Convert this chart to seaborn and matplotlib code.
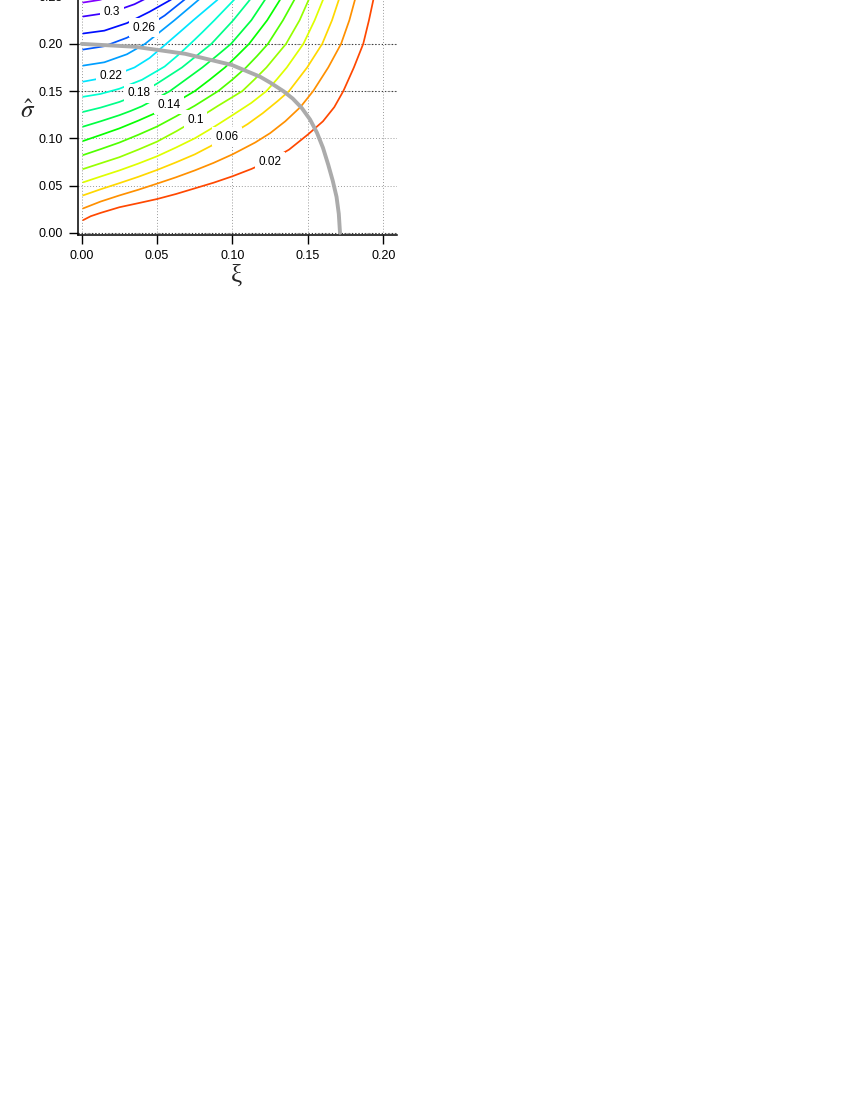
import numpy as np
import matplotlib
matplotlib.use('Agg')
import matplotlib.pyplot as plt
import seaborn as sns
import colorsys

# Contour levels
levels = [0.02, 0.04, 0.06, 0.08, 0.10, 0.12, 0.14, 0.16,
          0.18, 0.20, 0.22, 0.24, 0.26, 0.28, 0.30, 0.32]

# Each contour line as (xi, sigma_hat) pairs
c02 = [(0.001, 0.0134), (0.006, 0.0175), (0.0125, 0.0210), (0.025, 0.0270), (0.0375, 0.0313),
       (0.050, 0.0357), (0.0625, 0.0410), (0.075, 0.0470), (0.0875, 0.0530), (0.100, 0.0598),
       (0.1125, 0.0675), (0.125, 0.0765), (0.1375, 0.0880), (0.150, 0.1040), (0.160, 0.1180),
       (0.1675, 0.1330), (0.1735, 0.1500), (0.1805, 0.1750), (0.1867, 0.2000), (0.1905, 0.2250),
       (0.1934, 0.2466), (0.1950, 0.2600)]
c04 = [(0.001, 0.0258), (0.0125, 0.0330), (0.025, 0.0395), (0.0375, 0.0455), (0.050, 0.0520),
       (0.0625, 0.0587), (0.075, 0.0660), (0.0875, 0.0740), (0.100, 0.0830), (0.115, 0.0955),
       (0.125, 0.1055), (0.135, 0.1180), (0.145, 0.1330), (0.1535, 0.1500), (0.1635, 0.1750),
       (0.1720, 0.2000), (0.1775, 0.2250), (0.1812, 0.2466), (0.1830, 0.2600)]
c06 = [(0.001, 0.0396), (0.0125, 0.0460), (0.025, 0.0525), (0.0375, 0.0592), (0.050, 0.0665),
       (0.0625, 0.0745), (0.075, 0.0830), (0.0856, 0.0918), (0.0962, 0.1015), (0.110, 0.1150),
       (0.120, 0.1265), (0.130, 0.1395), (0.1375, 0.1500), (0.1495, 0.1750), (0.1595, 0.2000),
       (0.1660, 0.2250), (0.1705, 0.2466), (0.1725, 0.2600)]
c08 = [(0.001, 0.0534), (0.0125, 0.0595), (0.025, 0.0660), (0.0375, 0.0732), (0.050, 0.0810),
       (0.0625, 0.0902), (0.075, 0.1000), (0.0875, 0.1118), (0.100, 0.1245), (0.1125, 0.1375),
       (0.1225, 0.1500), (0.1293, 0.1622), (0.1360, 0.1750), (0.1470, 0.2000), (0.1545, 0.2250),
       (0.1600, 0.2466), (0.1625, 0.2600)]
c10 = [(0.001, 0.0675), (0.0125, 0.0735), (0.025, 0.0800), (0.0375, 0.0880), (0.050, 0.0965),
       (0.0628, 0.1075), (0.0756, 0.1194), (0.090, 0.1340), (0.1065, 0.1500), (0.1145, 0.1622),
       (0.1225, 0.1750), (0.1355, 0.2000), (0.1445, 0.2250), (0.1505, 0.2466), (0.1535, 0.2600)]
c12 = [(0.001, 0.0823), (0.0125, 0.0885), (0.025, 0.0955), (0.0375, 0.1037), (0.050, 0.1125),
       (0.0625, 0.1232), (0.075, 0.1345), (0.0905, 0.1500), (0.0998, 0.1620), (0.1090, 0.1750),
       (0.1162, 0.1870), (0.1235, 0.2000), (0.1335, 0.2250), (0.1410, 0.2466), (0.1440, 0.2600)]
c14 = [(0.001, 0.0972), (0.0125, 0.1035), (0.025, 0.1105), (0.0375, 0.1187), (0.050, 0.1275),
       (0.0579, 0.1345), (0.0665, 0.1420), (0.075, 0.1500), (0.085, 0.1622), (0.095, 0.1750),
       (0.103, 0.1873), (0.111, 0.2000), (0.123, 0.2250), (0.1315, 0.2466), (0.1355, 0.2600)]
c16 = [(0.001, 0.1124), (0.0125, 0.1180), (0.025, 0.1245), (0.0325, 0.1290), (0.040, 0.1340),
       (0.049, 0.1417), (0.0585, 0.1500), (0.069, 0.1622), (0.080, 0.1750), (0.0895, 0.1873),
       (0.099, 0.2000), (0.1125, 0.2250), (0.1215, 0.2466), (0.1260, 0.2600)]
c18 = [(0.001, 0.1280), (0.0125, 0.1325), (0.025, 0.1385), (0.0378, 0.1465), (0.050, 0.1580),
       (0.0665, 0.1750), (0.076, 0.1872), (0.086, 0.2000), (0.1005, 0.2250), (0.1115, 0.2466),
       (0.1165, 0.2600)]
c20 = [(0.001, 0.1440), (0.0125, 0.1470), (0.025, 0.1525), (0.040, 0.1620), (0.055, 0.1760),
       (0.0635, 0.1875), (0.072, 0.2000), (0.080, 0.2123), (0.088, 0.2250), (0.101, 0.2466),
       (0.106, 0.2600)]
c22 = [(0.001, 0.1600), (0.0195, 0.1655), (0.035, 0.1750), (0.045, 0.1850), (0.056, 0.2000),
       (0.065, 0.2124), (0.074, 0.2250), (0.090, 0.2466), (0.0955, 0.2600)]
c24 = [(0.001, 0.1770), (0.015, 0.1805), (0.030, 0.1890), (0.042, 0.2000), (0.0615, 0.2250),
       (0.0775, 0.2466), (0.084, 0.2600)]
c26 = [(0.001, 0.1940), (0.015, 0.1975), (0.030, 0.2065), (0.0413, 0.2160), (0.055, 0.2300),
       (0.068, 0.2466), (0.078, 0.2600)]
c28 = [(0.001, 0.2110), (0.015, 0.2140), (0.030, 0.2220), (0.045, 0.2340), (0.059, 0.2466),
       (0.070, 0.2600)]
c30 = [(0.001, 0.2290), (0.0201, 0.2336), (0.035, 0.2420), (0.045, 0.2500), (0.056, 0.2600)]
c32 = [(0.001, 0.2438), (0.012, 0.2466), (0.025, 0.2530), (0.035, 0.2600)]

# Grey boundary curve
boundary_xi = [0.000, 0.035, 0.0686, 0.0995, 0.1182, 0.125, 0.1337, 0.140, 0.146,
               0.1514, 0.156, 0.160, 0.1635, 0.1665, 0.169, 0.1705, 0.1713]
boundary_sigma = [0.200, 0.197, 0.1895, 0.1777, 0.1653, 0.159, 0.150, 0.142, 0.132,
                  0.120, 0.106, 0.090, 0.072, 0.055, 0.038, 0.020, 0.000]

# Inline contour labels (text, and where they sit on their line)
label_text = ['0.3', '0.26', '0.22', '0.18', '0.14', '0.1', '0.06', '0.02']
label_xi = [0.0201, 0.0413, 0.0195, 0.0378, 0.0579, 0.0756, 0.0962, 0.125]
label_sigma = [0.2336, 0.2173, 0.1660, 0.1477, 0.1354, 0.1194, 0.1018, 0.0753]

xticks = [0.00, 0.05, 0.10, 0.15, 0.20]
yticks = [0.00, 0.05, 0.10, 0.15, 0.20, 0.25]

contour_lines = [c02, c04, c06, c08, c10, c12, c14, c16,
                 c18, c20, c22, c24, c26, c28, c30, c32]

sns.set_theme(style='white')
plt.rcParams['font.family'] = ['Liberation Sans', 'DejaVu Sans']
plt.rcParams['mathtext.fontset'] = 'stix'

W, H = 850, 1100
fig = plt.figure(figsize=(W / 100, H / 100), dpi=100)
# axes box in pixels: left 78, right 397, bottom 235, top just above the page
ax = fig.add_axes([78 / W, 1 - 235 / H, (397 - 78) / W, (235 + 9) / H])
ax.set_xlim(-0.00245, 0.2091)
ax.set_ylim(-0.0024, 0.256)

# dotted grid, plus darker reference lines
for x in xticks:
    ax.axvline(x, color='#9a9a9a', lw=0.7, ls=(0, (1, 2)), zorder=1)
for y in yticks:
    ax.axhline(y, color='#9a9a9a', lw=0.7, ls=(0, (1, 2)), zorder=1)
for y in [0.0, 0.15, 0.20]:
    ax.axhline(y, color='#333333', lw=0.8, ls=(0, (1, 2)), zorder=1.5)

# rainbow colours, red for the lowest level to violet for the highest
n = len(levels)
colors = [colorsys.hsv_to_rgb((17 + i * 16.9) / 360.0, 1.0, 1.0) for i in range(n)]

for line, col in zip(contour_lines, colors):
    pts = np.array(line)
    sns.lineplot(x=pts[:, 0], y=pts[:, 1], sort=False, color=col, lw=1.25,
                 ax=ax, zorder=3, legend=False)

for t, x, y in zip(label_text, label_xi, label_sigma):
    ax.text(x, y, t, fontsize=8.5, ha='center', va='center', color='black', zorder=4,
            bbox=dict(boxstyle='square,pad=0.3', fc='white', ec='none'))

sns.lineplot(x=boundary_xi, y=boundary_sigma, sort=False, color='#ababab', lw=2.8,
             ax=ax, zorder=5, legend=False)

ax.set_xticks(xticks)
ax.set_xticklabels([f'{v:.2f}' for v in xticks])
ax.set_yticks(yticks)
ax.set_yticklabels([f'{v:.2f}' for v in yticks])
ax.tick_params(axis='both', which='both', direction='out', length=6.5, width=1.0,
               labelsize=9, colors='black', bottom=True, left=True)
ax.tick_params(axis='x', pad=4)
ax.tick_params(axis='y', pad=4.5)
ax.grid(False)
for side in ['top', 'right']:
    ax.spines[side].set_visible(False)
for side in ['left', 'bottom']:
    ax.spines[side].set_color('black')
    ax.spines[side].set_linewidth(1.1)

fig.text(236 / W, 1 - 276 / H, 'ξ', fontsize=18, ha='center', va='center',
         family=['Liberation Serif', 'DejaVu Serif'])
fig.text(28 / W, 1 - 111 / H, r'$\hat{\sigma}$', fontsize=18, ha='center', va='center')

fig.savefig('out.png', dpi=100, facecolor='white')
